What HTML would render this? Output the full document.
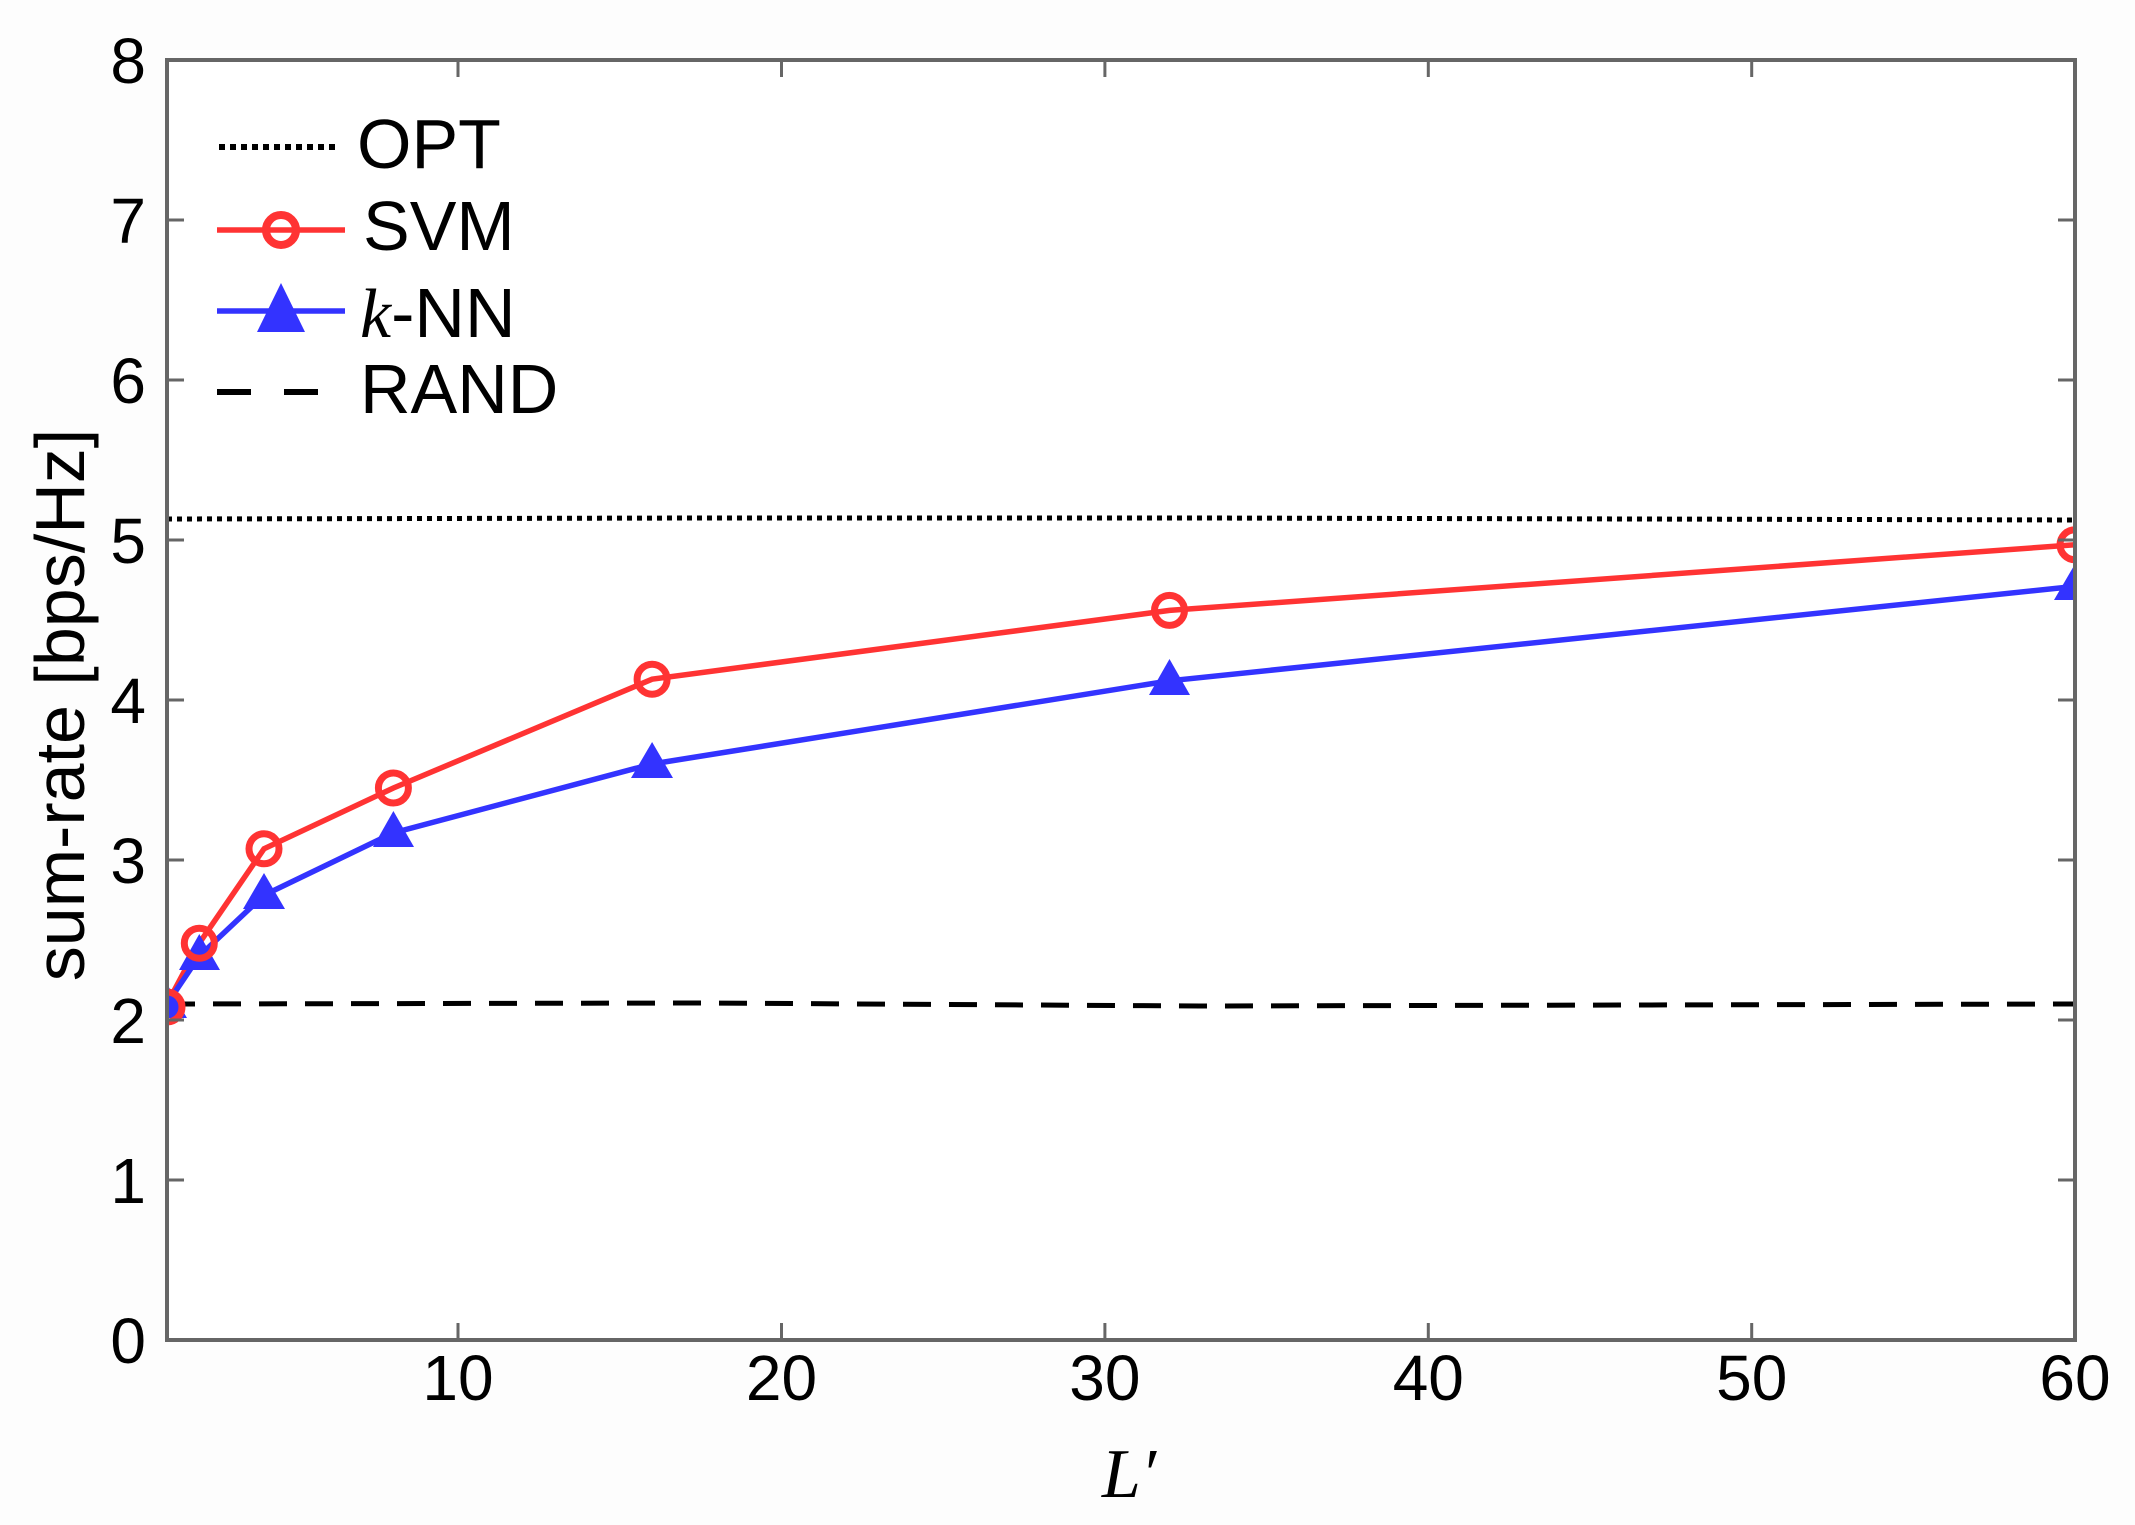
<!DOCTYPE html>
<html><head><meta charset="utf-8"><style>html,body{margin:0;padding:0;background:#fff;}svg{display:block}</style></head><body>
<svg width="2135" height="1525" viewBox="0 0 2135 1525" xmlns="http://www.w3.org/2000/svg">
<rect width="2135" height="1525" fill="#fdfdfd"/>
<rect x="167" y="60" width="1908" height="1280" fill="#fff"/>
<defs><clipPath id="c"><rect x="167" y="60" width="1908" height="1280"/></clipPath></defs>
<g clip-path="url(#c)">
<polyline points="167,519 700,518 1200,518 2075,520" fill="none" stroke="#000" stroke-width="5" stroke-dasharray="5,5"/>
<polyline points="167,1004 700,1003 1200,1006 2075,1004" fill="none" stroke="#000" stroke-width="5" stroke-dasharray="28,18"/>
<polyline points="167,1004 199.3,943.2 264,848.8 393.4,788 652.1,679.2 1169.5,610.4 2075,544.8" fill="none" stroke="#ff3333" stroke-width="5.5"/>
<polyline points="167,1004 199.3,956 264,895.2 393.4,832.8 652.1,764 1169.5,680.8 2075,586.4" fill="none" stroke="#3333ff" stroke-width="5.5"/>
<g fill="#3333ff">
<polygon points="167,984 187,1018 147,1018"/>
<polygon points="199.3,934 220,970 179,970"/>
<polygon points="264,873 285,909 243,909"/>
<polygon points="393.4,811 414,847 373,847"/>
<polygon points="652.1,742 673,778 631,778"/>
<polygon points="1169.5,659 1190,695 1149,695"/>
<polygon points="2075,564 2096,600 2054,600"/>
</g>
<g fill="none" stroke="#ff3333" stroke-width="7">
<circle cx="167" cy="1007" r="15"/><circle cx="199.3" cy="943.2" r="15"/><circle cx="264" cy="848.8" r="15"/><circle cx="393.4" cy="788" r="15"/><circle cx="652.1" cy="679.2" r="15"/><circle cx="1169.5" cy="610.4" r="15"/><circle cx="2075" cy="544.8" r="15"/>
</g>
</g>
<g stroke="#666" stroke-width="3">
<path d="M458,1340v-17M781.5,1340v-17M1104.9,1340v-17M1428.3,1340v-17M1751.7,1340v-17M458,60v17M781.5,60v17M1104.9,60v17M1428.3,60v17M1751.7,60v17"/>
<path d="M167,1180h17M167,1020h17M167,860h17M167,700h17M167,540h17M167,380h17M167,220h17M2075,1180h-17M2075,1020h-17M2075,860h-17M2075,700h-17M2075,540h-17M2075,380h-17M2075,220h-17"/>
</g>
<rect x="167" y="60" width="1908" height="1280" fill="none" stroke="#666" stroke-width="4"/>
<g font-family="Liberation Sans, sans-serif" font-size="64" fill="#000" text-anchor="end">
<text x="146" y="1363">0</text><text x="146" y="1203">1</text><text x="146" y="1043">2</text><text x="146" y="883">3</text><text x="146" y="723">4</text><text x="146" y="563">5</text><text x="146" y="403">6</text><text x="146" y="243">7</text><text x="146" y="83">8</text>
</g>
<g font-family="Liberation Sans, sans-serif" font-size="64" fill="#000" text-anchor="middle">
<text x="458" y="1400">10</text><text x="781.5" y="1400">20</text><text x="1104.9" y="1400">30</text><text x="1428.3" y="1400">40</text><text x="1751.7" y="1400">50</text><text x="2075" y="1400">60</text>
</g>
<text transform="translate(84,705) rotate(-90)" font-family="Liberation Sans, sans-serif" font-size="70" text-anchor="middle">sum-rate [bps/Hz]</text>
<text x="1129" y="1497" font-family="Liberation Serif, serif" font-style="italic" font-size="70" text-anchor="middle">L′</text>
<g>
<line x1="219" y1="147" x2="340" y2="147" stroke="#000" stroke-width="6" stroke-dasharray="6,5"/>
<line x1="217" y1="230" x2="345" y2="230" stroke="#ff3333" stroke-width="5.5"/>
<circle cx="281" cy="230" r="15" fill="none" stroke="#ff3333" stroke-width="8"/>
<line x1="217" y1="311" x2="345" y2="311" stroke="#3333ff" stroke-width="5.5"/>
<polygon points="281,283 305,332 257,332" fill="#3333ff"/>
<line x1="217" y1="392" x2="318" y2="392" stroke="#000" stroke-width="6" stroke-dasharray="34,33"/>
<g font-family="Liberation Sans, sans-serif" font-size="70" fill="#000">
<text x="357" y="168">OPT</text>
<text x="363" y="250">SVM</text>
<text x="360" y="337"><tspan font-family="Liberation Serif, serif" font-style="italic">k</tspan>-NN</text>
<text x="360" y="413">RAND</text>
</g>
</g>
</svg>
</body></html>
